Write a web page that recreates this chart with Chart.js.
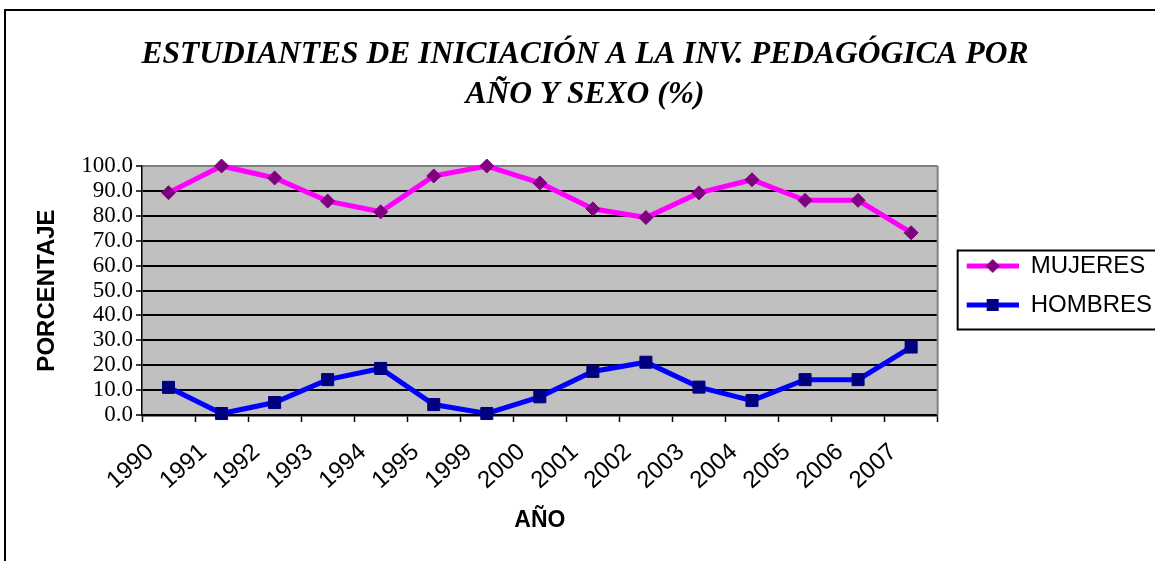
<!DOCTYPE html>
<html>
<head>
<meta charset="utf-8">
<script src="https://cdn.jsdelivr.net/npm/chart.js@4.4.1/dist/chart.umd.min.js"></script>
<style>
  html, body { margin: 0; padding: 0; background: #fff; }
  #wrap { width: 1155px; height: 561px; }
</style>
</head>
<body>
<div id="wrap"><canvas id="grafico" width="1155" height="561"></canvas></div>
<script>
const anios = ["1990", "1991", "1992", "1993", "1994", "1995", "1999", "2000",
  "2001", "2002", "2003", "2004", "2005", "2006", "2007"];
const mujeres = [89.3, 100, 95.2, 85.9, 81.6, 96.0, 100, 93.2, 82.8, 79.3, 89.2, 94.5, 86.2, 86.2, 73.2];
const hombres = [11.1, 0.6, 5.0, 14.2, 18.7, 4.2, 0.6, 7.3, 17.5, 21.2, 11.2, 5.8, 14.2, 14.2, 27.3];

// line + marker sample for the legend (left margin keeps it off the frame)
function muestraLeyenda(colorLinea, colorMarca, forma) {
  const c = document.createElement("canvas");
  c.width = 66;
  c.height = 18;
  const g = c.getContext("2d");
  g.strokeStyle = colorLinea;
  g.lineWidth = 5;
  g.beginPath();
  g.moveTo(14, 9);
  g.lineTo(66, 9);
  g.stroke();
  g.fillStyle = colorMarca;
  if (forma === "rombo") {
    g.beginPath();
    g.moveTo(33, 9);
    g.lineTo(40, 2);
    g.lineTo(47, 9);
    g.lineTo(40, 16);
    g.closePath();
    g.fill();
  } else {
    g.fillRect(34, 3, 12, 12);
  }
  return c;
}

const marcas = [
  muestraLeyenda("#FF00FF", "#800080", "rombo"),
  muestraLeyenda("#0000FF", "#000080", "cuadro"),
];

const fondo = {
  id: "fondo",
  beforeDraw(chart) {
    const { ctx, chartArea: a } = chart;
    ctx.save();
    ctx.fillStyle = "#fff";
    ctx.fillRect(0, 0, chart.width, chart.height);
    ctx.fillStyle = "#C0C0C0";
    ctx.fillRect(a.left, a.top, a.right - a.left, a.bottom - a.top);
    // outer frame of the chart (runs past the right and bottom edges)
    ctx.strokeStyle = "#000";
    ctx.lineWidth = 2;
    ctx.strokeRect(5, 10, 1300, 700);
    ctx.restore();
  },
  beforeDatasetsDraw(chart) {
    const { ctx, chartArea: a } = chart;
    ctx.save();
    ctx.strokeStyle = "#808080";
    ctx.lineWidth = 2;
    ctx.beginPath();
    ctx.moveTo(a.right, a.top);
    ctx.lineTo(a.right, a.bottom);
    ctx.stroke();
    ctx.restore();
  },
  afterDraw(chart) {
    const { ctx, chartArea: a } = chart;
    const lg = chart.legend;
    const cy = (a.top + a.bottom) / 2;
    ctx.save();
    ctx.strokeStyle = "#000";
    ctx.lineWidth = 2;
    ctx.strokeRect(lg.left + 20, cy - 40, 400, 79);
    ctx.restore();
  },
};

const ctx = document.getElementById("grafico").getContext("2d");

new Chart(ctx, {
  type: "line",
  data: {
    labels: anios,
    datasets: [
      {
        label: "MUJERES",
        data: mujeres,
        borderColor: "#FF00FF",
        borderWidth: 5,
        pointStyle: "rectRot",
        pointRadius: 7,
        pointBackgroundColor: "#800080",
        pointBorderColor: "#800080",
        pointBorderWidth: 1,
        tension: 0,
        clip: false,
      },
      {
        label: "HOMBRES",
        data: hombres,
        borderColor: "#0000FF",
        borderWidth: 5,
        pointStyle: "rect",
        pointRadius: 8.5,
        pointBackgroundColor: "#000080",
        pointBorderColor: "#000080",
        pointBorderWidth: 1,
        tension: 0,
        clip: false,
      },
    ],
  },
  options: {
    responsive: false,
    animation: false,
    events: [],
    layout: { padding: { top: 10, left: 8, right: -7, bottom: 0 } },
    plugins: {
      title: {
        display: true,
        text: ["ESTUDIANTES DE INICIACIÓN A LA INV. PEDAGÓGICA POR", "AÑO Y SEXO (%)"],
        color: "#000",
        font: { family: "Liberation Serif", size: 31.5, weight: "bold", style: "italic", lineHeight: 1.27 },
        padding: { top: 25, bottom: 51 },
      },
      legend: {
        position: "right",
        labels: {
          color: "#000",
          font: { family: "Liberation Sans", size: 24 },
          padding: 15,
          usePointStyle: true,
          pointStyleWidth: 66,
          generateLabels: (chart) =>
            Chart.defaults.plugins.legend.labels.generateLabels(chart).map((it, i) => {
              it.pointStyle = marcas[i];
              return it;
            }),
        },
      },
      tooltip: { enabled: false },
    },
    scales: {
      x: {
        offset: true,
        grid: {
          offset: true,
          drawOnChartArea: false,
          drawTicks: true,
          tickLength: 7,
          tickColor: "#000",
          tickWidth: 1.5,
        },
        border: { color: "#000", width: 2.5 },
        ticks: {
          color: "#000",
          font: { family: "Liberation Sans", size: 24 },
          minRotation: 42,
          maxRotation: 42,
          autoSkip: false,
          labelOffset: -18,
          padding: 16,
        },
        title: {
          display: true,
          text: "AÑO",
          color: "#000",
          font: { family: "Liberation Sans", size: 23, weight: "bold" },
          padding: { top: 0, bottom: 27 },
        },
        afterFit: (scale) => {
          scale.height = 146;
        },
      },
      y: {
        min: 0,
        max: 100,
        ticks: {
          stepSize: 10,
          autoSkip: false,
          color: "#000",
          font: { family: "Liberation Serif", size: 23 },
          padding: 3,
          callback: (v) => v.toFixed(1),
        },
        grid: {
          color: (c) => (c.tick && c.tick.value === 100 ? "#808080" : "#000"),
          lineWidth: 2,
          tickLength: 6,
          tickColor: "#000",
          tickWidth: 1.5,
        },
        border: { color: "#000", width: 1.5 },
        title: {
          display: true,
          text: "PORCENTAJE",
          color: "#000",
          font: { family: "Liberation Sans", size: 24, weight: "bold" },
          padding: { top: 25, bottom: 0 },
        },
        afterFit: (scale) => {
          scale.width = 134;
        },
      },
    },
  },
  plugins: [fondo],
});
</script>
</body>
</html>
